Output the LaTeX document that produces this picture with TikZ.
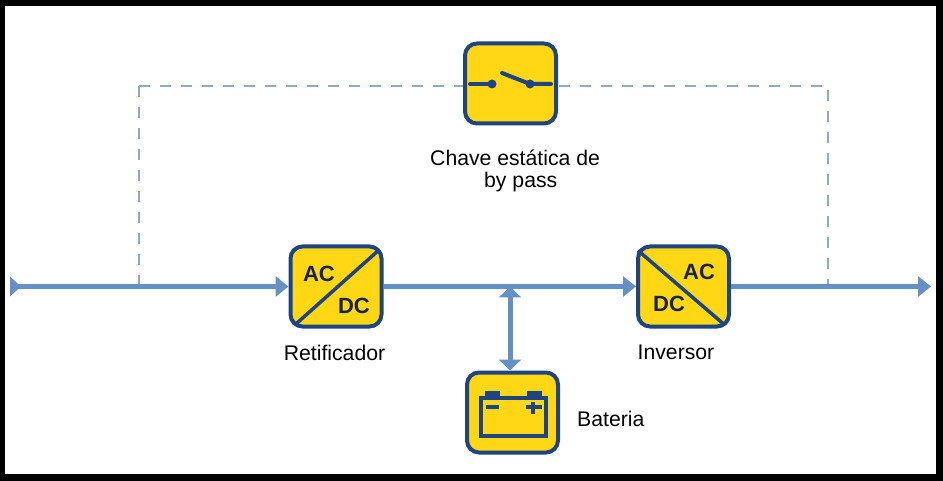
\documentclass[tikz,border=0pt]{standalone}
\usepackage{fontspec}
\setmainfont{Liberation Sans}
\usetikzlibrary{arrows.meta,calc}

\definecolor{boxfill}{HTML}{FFD714}
\definecolor{boxline}{HTML}{1F4484}
\definecolor{wireblue}{HTML}{6690C4}
\definecolor{dashblue}{HTML}{93A9BE}
\definecolor{acdctext}{HTML}{1A2155}

\tikzset{
  unitbox/.style={draw=boxline, fill=boxfill, line width=4pt, rounded corners=12pt, minimum width=91pt, minimum height=80pt},
  wire/.style={draw=wireblue, line width=5pt, -{Triangle[length=13pt,width=20pt]}},
  bypass/.style={draw=dashblue, line width=1.5pt, dash pattern=on 11pt off 10pt},
  acdc/.style={font=\bfseries\fontsize{22}{22}\selectfont, text=acdctext, inner sep=0pt},
  caption/.style={font=\fontsize{21.2}{24}\selectfont, inner sep=0pt, align=left},
  symbolline/.style={draw=boxline, line width=4pt}
}

\begin{document}
\begin{tikzpicture}[x=1pt, y=-1pt]

% Frame
\useasboundingbox (0,0) rectangle (943,481);
\fill[black] (0,0) rectangle (943,481);
\fill[white] (5,6) rectangle (936,474);

% Free ends
\coordinate (in) at (10,286.5);
\coordinate (out) at (931,286.5);
\coordinate (tapl) at (139,286.5);
\coordinate (tapr) at (828,286.5);
\coordinate (topl) at (139,86);
\coordinate (topr) at (828,86);
\coordinate (busmid) at (510,286.5);

% Bypass
\draw[bypass] (topl) -- (tapl);
\draw[bypass] (topl) -- (topr) -- (tapr);

% Units
\node[unitbox] (chave) at (510.5,83.5) {};
\node[unitbox] (retif) at (336,286.5) {};
\node[unitbox] (inver) at (683.5,286.5) {};
\node[unitbox] (bat) at (512.5,412.5) {};

% Main line
\fill[wireblue] (in) ++(0,-10) -- ++(11,10) -- ++(-11,10) -- cycle;
\draw[wire] (in) -- (retif.west);
\draw[wire] (retif.east) -- (inver.west);
\draw[wire] (inver.east) -- (out);
\draw[wire, {Triangle[length=11pt,width=22pt]}-{Triangle[length=11pt,width=22pt]}] (busmid) -- (busmid |- bat.north);

% Rectifier
\draw[symbolline, line width=3.5pt] ($(retif.south west)+(8,-5)$) -- ($(retif.north east)+(-4,5)$);
\node[acdc] at (319,274) {AC};
\node[acdc] at (354,306) {DC};

% Inverter
\draw[symbolline, line width=3.5pt] ($(inver.north west)+(2,6)$) -- ($(inver.south east)+(-8,-5)$);
\node[acdc] at (699,272) {AC};
\node[acdc] at (669,304) {DC};

% Switch
\draw[symbolline, line cap=round] (470,84) -- (492,84);
\fill[boxline] (492,84) circle (4.5pt);
\draw[symbolline, line cap=round] (502,73) -- (530,84) -- (551,84);
\fill[boxline] (530,84) circle (4.5pt);

% Battery
\draw[symbolline, line width=4.5pt] (481,398) rectangle (546,436);
\fill[boxline] (485,391) rectangle (500,398);
\fill[boxline] (527,391) rectangle (542,398);
\draw[boxline, line width=4pt] (486,407) -- (499,407);
\draw[boxline, line width=4.5pt] (526,407) -- (542,407) (533,402) -- (533,414);

% Labels
\node[caption, anchor=west] (lblchave) at (430,158) {Chave estática de};
\node[caption, anchor=west] (lblbypass) at (484,182.5) {by pass};
\node[caption] (lblretif) at (334.5,353) {Retificador};
\node[caption] (lblinver) at (676,352) {Inversor};
\node[caption, anchor=west] (lblbat) at (577,419) {Bateria};

\end{tikzpicture}
\end{document}
